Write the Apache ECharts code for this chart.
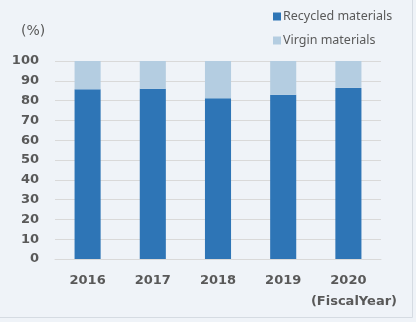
<!DOCTYPE html>
<html>
<head>
<meta charset="utf-8">
<script src="https://cdn.jsdelivr.net/npm/echarts@6/dist/echarts.min.js"></script>
<style>
  html, body { margin: 0; padding: 0; background: #EFF3F8; }
  #chart { width: 416px; height: 322px; }
</style>
</head>
<body>
<div id="chart"></div>
<script>
// Share of recycled vs. virgin materials by fiscal year (%)
const years = ['2016', '2017', '2018', '2019', '2020'];
const recycled = [85.7, 86.0, 81.2, 83.0, 86.4];
const virgin = [14.3, 14.0, 18.8, 17.0, 13.6];
const yTicks = [0, 10, 20, 30, 40, 50, 60, 70, 80, 90, 100];

const textColor = '#595959';
const chart = echarts.init(document.getElementById('chart'), null, { renderer: 'canvas' });

chart.setOption({
  backgroundColor: '#EFF3F8',
  animation: false,
  grid: { left: 55, right: 35, top: 61, bottom: 63, containLabel: false },
  legend: {
    orient: 'vertical',
    left: 268,
    top: 5,
    itemWidth: 8,
    itemHeight: 8,
    itemGap: 11,
    icon: 'rect',
    textStyle: { color: textColor, fontSize: 12.5, fontFamily: 'Noto Sans', padding: [0, 0, 0, -3] },
    data: ['Recycled materials', 'Virgin materials']
  },
  xAxis: {
    type: 'category',
    data: years,
    axisLine: { lineStyle: { color: '#D9D9D9', width: 1 } },
    axisTick: { show: false },
    axisLabel: { color: textColor, fontSize: 13, fontWeight: 'bold', fontFamily: 'DejaVu Sans', margin: 15 }
  },
  yAxis: {
    type: 'value',
    min: yTicks[0],
    max: yTicks[yTicks.length - 1],
    interval: 10,
    axisLine: { show: false },
    axisTick: { show: false },
    splitLine: { lineStyle: { color: '#D9D9D9', width: 1 } },
    axisLabel: { color: textColor, fontSize: 13, fontWeight: 'bold', fontFamily: 'DejaVu Sans', margin: 16 }
  },
  series: [
    {
      name: 'Recycled materials',
      type: 'bar',
      stack: 'total',
      barWidth: '40%',
      data: recycled,
      itemStyle: { color: '#2E75B6' }
    },
    {
      name: 'Virgin materials',
      type: 'bar',
      stack: 'total',
      barWidth: '40%',
      data: virgin,
      itemStyle: { color: '#B4CDE1' }
    }
  ],
  graphic: [
    {
      type: 'text',
      left: 21,
      top: 24,
      style: { text: '(%)', fill: textColor, fontSize: 14, fontFamily: 'DejaVu Sans' }
    },
    {
      type: 'text',
      right: 19,
      top: 295,
      style: { text: '(FiscalYear)', fill: textColor, fontSize: 13, fontWeight: 'bold', fontFamily: 'DejaVu Sans' }
    },
    {
      type: 'polyline',
      shape: { points: [[412.5, 0], [412.5, 317.5], [0, 317.5]] },
      style: { stroke: '#D5DBE2', lineWidth: 1, fill: null }
    }
  ]
});
</script>
</body>
</html>
